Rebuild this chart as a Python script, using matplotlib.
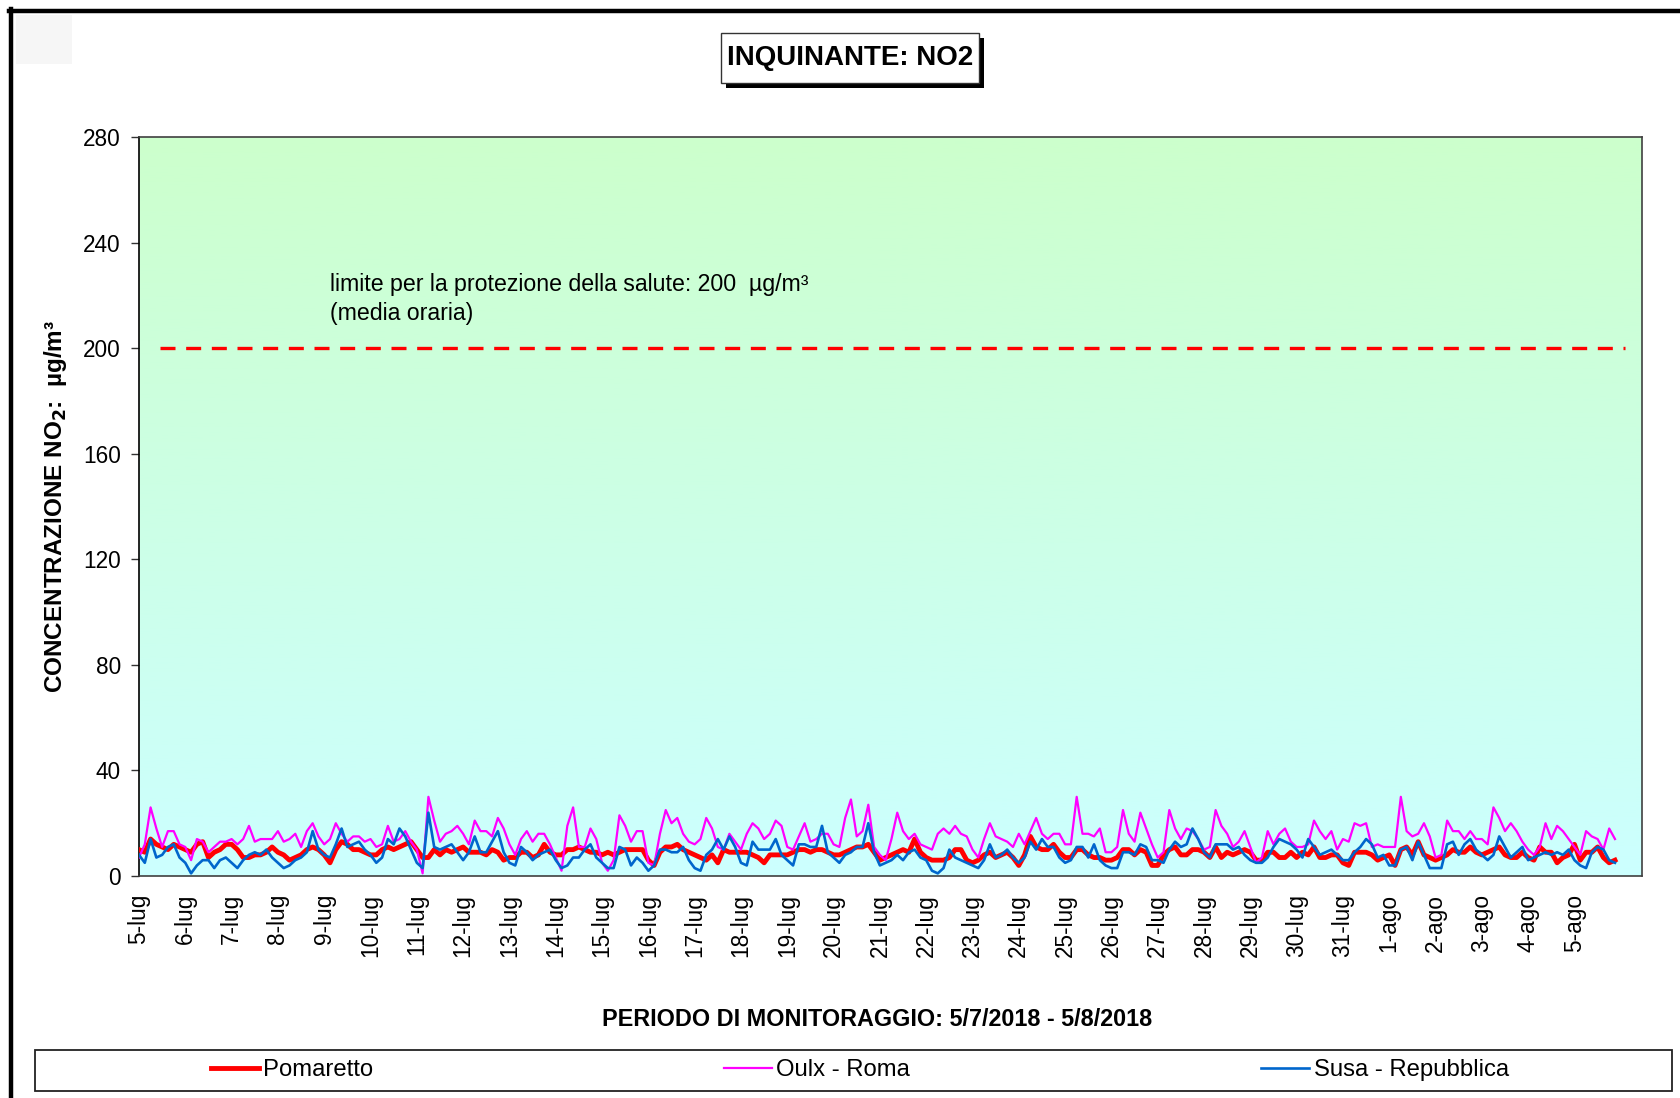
import numpy as np
import matplotlib
matplotlib.use("Agg")
import matplotlib.pyplot as plt
from matplotlib.colors import LinearSegmentedColormap
from matplotlib.patches import Rectangle
from matplotlib.lines import Line2D

plt.rcParams['font.family'] = ['Liberation Sans', 'DejaVu Sans']

# ---------------- data (3-hourly readings, µg/m³) ----------------
day_labels = ['5-lug', '6-lug', '7-lug', '8-lug', '9-lug', '10-lug', '11-lug', '12-lug',
              '13-lug', '14-lug', '15-lug', '16-lug', '17-lug', '18-lug', '19-lug', '20-lug',
              '21-lug', '22-lug', '23-lug', '24-lug', '25-lug', '26-lug', '27-lug', '28-lug',
              '29-lug', '30-lug', '31-lug', '1-ago', '2-ago', '3-ago', '4-ago', '5-ago']

pomaretto = [
    10, 9, 14, 12, 11, 10, 12, 11, 10, 9, 12, 13, 7, 9, 10, 12, 12, 10, 7, 7, 8, 8, 9, 11, 9, 8, 6, 7, 8, 10,
    11, 10, 8, 5, 10, 13, 12, 10, 10, 9, 8, 8, 10,
    11, 10, 11, 12, 13, 10, 7, 7, 10, 8, 10, 9, 10, 11, 9, 9, 9, 8, 10, 9, 6, 7, 7, 9, 9, 7, 8, 12, 9, 8,
    8, 10, 10, 11, 10, 9, 9, 8, 9, 8, 9, 10, 10,
    10, 10, 6, 4, 9, 11, 11, 12, 10, 9, 8, 7, 6, 8, 5, 10, 9, 9, 9, 9, 8, 7, 5, 8, 8, 8, 8, 9, 10, 10,
    9, 10, 10, 9, 8, 8, 9, 10, 11, 11, 12, 9, 6, 7,
    8, 9, 10, 9, 14, 9, 7, 6, 6, 6, 7, 10, 10, 6, 5, 6, 8, 9, 7, 8, 9, 7, 4, 8, 15, 11, 10, 10, 12, 9,
    7, 7, 10, 10, 8, 7, 7, 6, 6, 7, 10, 10, 8,
    10, 9, 4, 4, 8, 10, 11, 8, 8, 10, 10, 9, 7, 11, 7, 9, 8, 9, 10, 9, 6, 6, 9, 9, 7, 7, 9, 7, 9, 8,
    11, 7, 7, 8, 8, 5, 4, 9, 9, 9, 8, 6, 7,
    8, 4, 10, 11, 8, 13, 8, 7, 6, 7, 8, 10, 9, 9, 11, 9, 8, 9, 10, 11, 8, 7, 7, 9, 7, 6, 11, 9, 9, 5,
    7, 8, 12, 6, 9, 9, 11, 7, 5, 6]

oulx_roma = [
    7, 12, 26, 18, 11, 17, 17, 12, 11, 6, 14, 13, 9, 11, 13, 13, 14, 12, 14, 19, 13, 14, 14, 14, 17, 13, 14, 16, 11, 17,
    20, 15, 12, 14, 20, 16, 13, 15, 15, 13, 14, 11, 12,
    19, 13, 14, 17, 13, 10, 1, 30, 21, 13, 16, 17, 19, 16, 12, 21, 17, 17, 15, 22, 18, 12, 8, 14, 17, 13, 16, 16, 12, 7,
    2, 19, 26, 11, 11, 18, 14, 5, 2, 6, 23, 19, 13,
    17, 17, 5, 4, 16, 25, 20, 22, 16, 13, 12, 14, 22, 18, 11, 10, 16, 13, 10, 16, 20, 18, 14, 16, 21, 19, 11, 10, 15, 20,
    13, 14, 16, 16, 12, 11, 22, 29, 15, 17, 27, 11, 8, 6,
    14, 24, 17, 14, 16, 12, 11, 10, 16, 18, 16, 19, 16, 15, 10, 7, 14, 20, 15, 14, 13, 11, 16, 12, 17, 22, 16, 14, 16, 16,
    12, 12, 30, 16, 16, 15, 18, 9, 9, 11, 25, 16, 13,
    24, 18, 12, 7, 9, 25, 18, 14, 18, 17, 14, 10, 11, 25, 19, 16, 11, 13, 17, 11, 5, 7, 17, 12, 16, 18, 13, 11, 11, 12,
    21, 17, 14, 17, 10, 14, 13, 20, 19, 20, 11, 12, 11,
    11, 11, 30, 17, 15, 16, 20, 15, 7, 8, 21, 17, 17, 14, 17, 14, 14, 12, 26, 22, 17, 20, 17, 13, 10, 8, 11, 20, 14, 19,
    17, 14, 11, 8, 17, 15, 14, 10, 18, 14]

susa_repubblica = [
    8, 5, 14, 7, 8, 11, 12, 7, 5, 1, 4, 6, 6, 3, 6, 7, 5, 3, 6, 8, 9, 8, 10, 7, 5, 3, 4, 6, 7, 9,
    17, 10, 8, 7, 12, 18, 11, 12, 13, 10, 8, 5, 7,
    14, 12, 18, 15, 10, 5, 3, 24, 11, 10, 11, 12, 9, 6, 9, 15, 9, 9, 13, 17, 9, 5, 4, 11, 9, 6, 8, 9, 10, 6,
    3, 4, 7, 7, 10, 12, 7, 5, 3, 3, 11, 10, 4,
    7, 5, 2, 4, 10, 10, 9, 9, 11, 6, 3, 2, 8, 10, 14, 10, 15, 11, 5, 4, 13, 10, 10, 10, 14, 8, 6, 4, 12, 12,
    11, 11, 19, 9, 7, 5, 8, 9, 11, 11, 20, 9, 4, 5,
    6, 8, 6, 9, 10, 7, 6, 2, 1, 3, 10, 7, 6, 5, 4, 3, 6, 12, 7, 8, 10, 7, 5, 7, 13, 10, 14, 11, 11, 7,
    5, 6, 11, 11, 7, 12, 6, 4, 3, 3, 9, 9, 8,
    12, 11, 6, 6, 5, 10, 13, 11, 12, 18, 14, 9, 7, 12, 12, 12, 10, 11, 8, 6, 5, 5, 7, 11, 14, 13, 12, 10, 7, 14,
    11, 8, 9, 10, 8, 6, 6, 9, 11, 14, 12, 7, 8,
    4, 4, 10, 11, 6, 13, 8, 3, 3, 3, 12, 13, 8, 12, 14, 10, 8, 6, 8, 15, 11, 7, 9, 11, 6, 7, 8, 9, 8, 9,
    8, 10, 6, 4, 3, 9, 11, 10, 6, 5]

limit_value = 200
limit_x = [11, 770]          # extent of the dashed limit line (hours)
y_ticks = [0, 40, 80, 120, 160, 200, 240, 280]

hours = np.arange(len(pomaretto)) * 3   # hourly index of each reading
day_ticks = np.arange(len(day_labels)) * 24

# ---------------- figure ----------------
W, H = 1681, 1098
fig = plt.figure(figsize=(W / 100, H / 100), dpi=100)

def fx(x):
    return x / W

def fy(y):
    return 1 - y / H

ax = fig.add_axes([fx(139), fy(876), fx(1642) - fx(139), fy(137) - fy(876)])

xmax = 779
# gradient background
cmap = LinearSegmentedColormap.from_list('bg', ['#CCFFFF', '#CCFFCC'])
grad = np.linspace(0, 1, 256).reshape(-1, 1)
ax.imshow(grad, extent=[0, xmax, 0, 280], origin='lower', aspect='auto', cmap=cmap, zorder=0)

ax.plot(hours, pomaretto, color='#FF0000', lw=3.5, zorder=3, solid_joinstyle='round')
ax.plot(hours, oulx_roma, color='#FF00FF', lw=1.6, zorder=4)
ax.plot(hours, susa_repubblica, color='#0066CC', lw=1.9, zorder=5)

ax.plot(limit_x, [limit_value, limit_value], color='#FF0000', lw=2.4, dashes=(4.5, 3.2), zorder=3)
ax.text(99, 218.5, 'limite per la protezione della salute: 200  µg/m³\n(media oraria)',
        fontsize=16.7, ha='left', va='center', linespacing=1.35, zorder=6)

ax.set_xlim(0, xmax)
ax.set_ylim(0, 280)
ax.set_yticks(y_ticks)
ax.set_yticklabels([str(v) for v in y_ticks], fontsize=16.3)
ax.tick_params(axis='y', direction='out', length=6, width=1, pad=7, color='#333333')
ax.set_xticks(day_ticks)
ax.set_xticklabels(day_labels, rotation=90, fontsize=16.3, ha='center', va='top')
ax.tick_params(axis='x', length=0, pad=13)
for s in ['top', 'right', 'bottom']:
    ax.spines[s].set_color('#404040')
    ax.spines[s].set_linewidth(1.2)
ax.spines['left'].set_color('#000000')
ax.spines['left'].set_linewidth(1.2)

# y label
fig.text(fx(56), fy(506), 'CONCENTRAZIONE NO$_\\mathbf{2}$:  µg/m³', rotation=90,
         fontsize=17.5, fontweight='bold', ha='center', va='center')

# x label
fig.text(fx(877), fy(1020), 'PERIODO DI MONITORAGGIO: 5/7/2018 - 5/8/2018',
         fontsize=16.8, fontweight='bold', ha='center', va='center')

# title box with shadow
fig.patches.append(Rectangle((fx(726), fy(88)), fx(979) - fx(721), fy(33) - fy(83),
                             transform=fig.transFigure, facecolor='black', edgecolor='none', zorder=1))
fig.patches.append(Rectangle((fx(721), fy(83)), fx(979) - fx(721), fy(33) - fy(83),
                             transform=fig.transFigure, facecolor='white', edgecolor='#333333', lw=1, zorder=2))
fig.text(fx(850), fy(58), 'INQUINANTE: NO2', fontsize=20, fontweight='bold',
         ha='center', va='center', zorder=3)

# faint corner patch
fig.patches.append(Rectangle((fx(16), fy(64)), fx(72) - fx(16), fy(15) - fy(64),
                             transform=fig.transFigure, facecolor='#F6F6F6', edgecolor='none', zorder=0))

# outer frame (top and left)
fig.add_artist(Line2D([fx(9), 1], [fy(11), fy(11)], color='black', lw=3.2, transform=fig.transFigure))
fig.add_artist(Line2D([fx(11), fx(11)], [fy(9), 0], color='black', lw=3.2, transform=fig.transFigure))

# legend box
fig.patches.append(Rectangle((fx(35), fy(1091)), fx(1672) - fx(35), fy(1050) - fy(1091),
                             transform=fig.transFigure, facecolor='white', edgecolor='#222222', lw=1.3, zorder=1))
handles = [Line2D([], [], color='#FF0000', lw=3.5),
           Line2D([], [], color='#FF00FF', lw=1.6),
           Line2D([], [], color='#0066CC', lw=1.9)]
leg = fig.legend(handles, ['Pomaretto', 'Oulx - Roma', 'Susa - Repubblica'], ncol=3,
                 loc='center left', bbox_to_anchor=(fx(211), fy(1070)), frameon=False,
                 fontsize=17.2, handlelength=2.0, handletextpad=0.18, columnspacing=14.7,
                 borderpad=0, borderaxespad=0)
leg.set_zorder(3)

fig.savefig('out.png', dpi=100)
